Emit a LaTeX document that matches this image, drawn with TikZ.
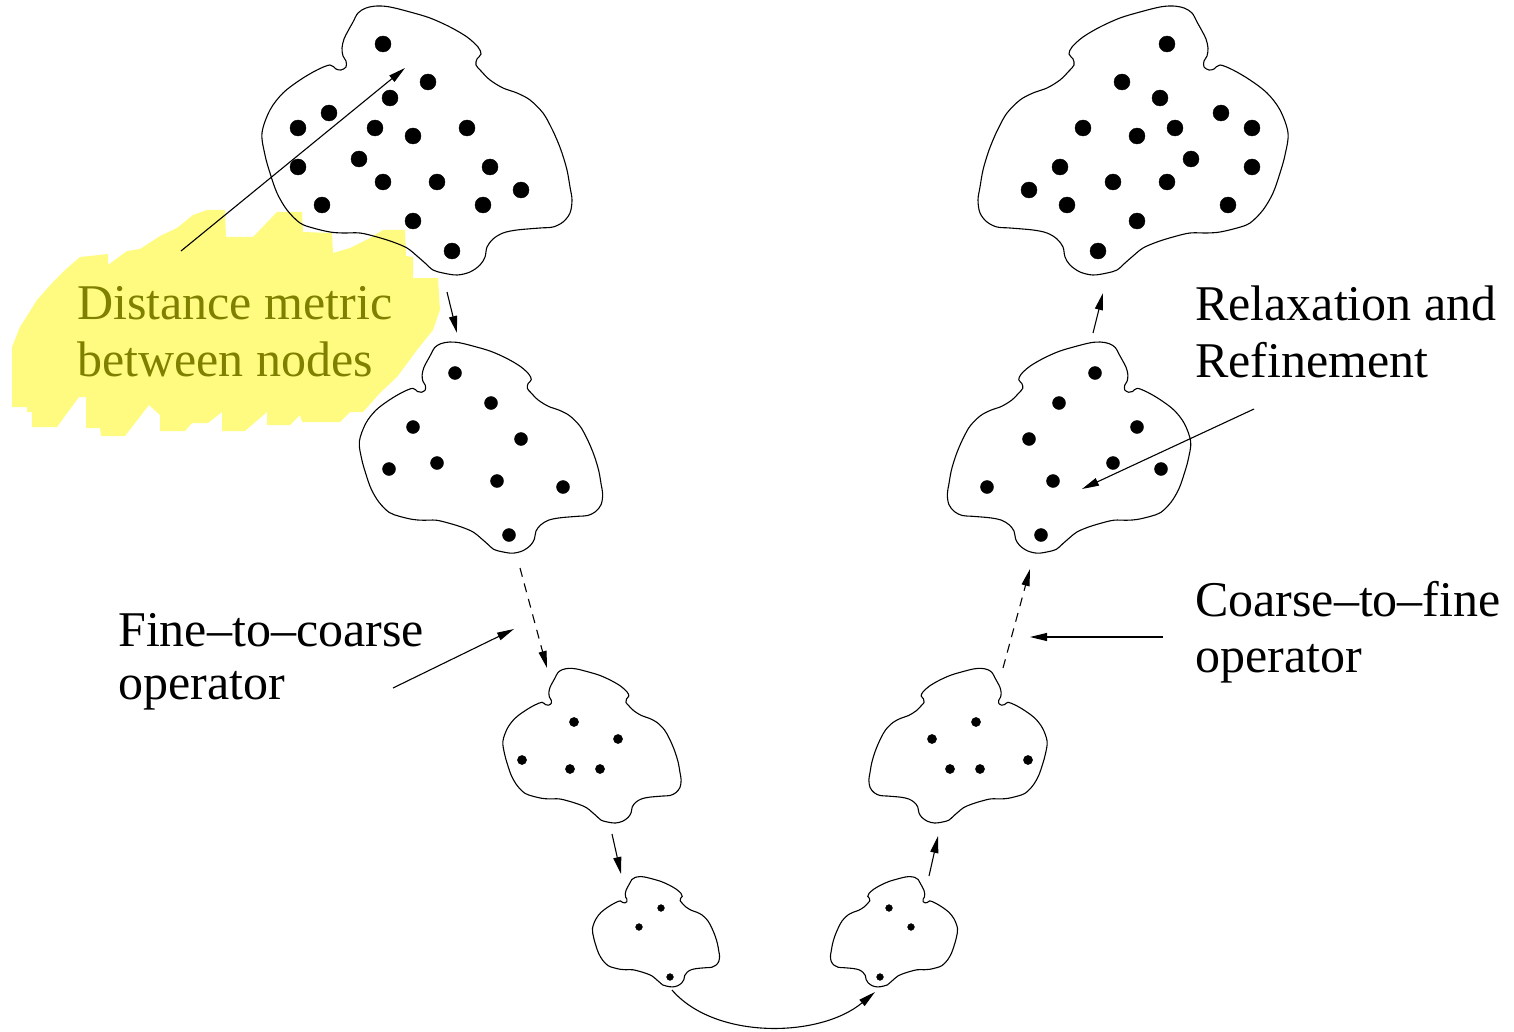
\documentclass[tikz,border=0pt]{standalone}
\usepackage{fontspec}
\setmainfont{Liberation Serif}
\usetikzlibrary{arrows.meta}

\definecolor{hilite}{RGB}{255,251,128}
\definecolor{olivetext}{RGB}{128,128,0}

\tikzset{
  blobline/.style={line width=1.1pt},
  arr/.style={line width=1.1pt,-{Triangle[length=17pt,width=8pt]}},
  darr/.style={arr,dash pattern=on 9pt off 7pt},
  lbl/.style={font=\fontsize{50}{57}\selectfont,inner sep=0pt,anchor=base west},
  blobshape/.pic={
    \draw[blobline] plot[smooth cycle,tension=0.55] coordinates {
      (-155,-8) (-147,-31) (-134,-48) (-117,-61) (-100,-71) (-87,-76)
      (-81,-72) (-76,-71) (-71,-74) (-71,-80) (-74,-85) (-75,-93)
      (-73,-102) (-69,-110) (-64,-119) (-59,-128) (-51,-133) (-40,-135)
      (-27,-134) (-7,-129) (13,-123) (33,-114) (50,-104) (61,-94)
      (64,-87) (60,-82) (59,-76) (64,-70) (73,-61) (86,-53) (100,-48)
      (113,-41) (126,-28) (134,-14) (140,-1) (145,12) (150,29) (153,46)
      (155,59) (153,72) (146,81) (136,86) (123,87) (100,89) (86,92)
      (76,98) (70,106) (68,116) (63,124) (53,131) (40,134) (26,132)
      (16,129) (8,122) (0,115) (-10,107) (-24,101) (-40,96) (-57,92)
      (-74,92) (-87,91) (-104,87) (-117,82) (-130,69) (-140,52)
      (-147,32) (-152,14)
    };
  }
}

\begin{document}
\begin{tikzpicture}[x=1pt,y=-1pt]
\useasboundingbox (0,0) rectangle (1514,1032);

% highlighter marks
\fill[hilite] (12,407) -- (12,347) -- (20,327) -- (37,300) -- (53,282) -- (65,270)
  -- (80,257) -- (108,254) -- (108,265) -- (127,251) -- (140,249) -- (160,236)
  -- (177,228) -- (193,215) -- (207,210) -- (225,210) -- (226,237) -- (253,237)
  -- (277,212) -- (302,212) -- (303,232) -- (332,233) -- (333,253) -- (350,248)
  -- (370,238) -- (383,230) -- (405,230) -- (406,256) -- (413,257) -- (413,278)
  -- (438,278) -- (440,310) -- (433,330) -- (417,350) -- (397,377) -- (380,393)
  -- (363,412) -- (350,412) -- (340,422) -- (302,422) -- (300,415) -- (290,425)
  -- (267,425) -- (267,412) -- (245,431) -- (222,431) -- (222,412) -- (208,423)
  -- (192,423) -- (185,431) -- (160,431) -- (160,415) -- (149,405) -- (125,436)
  -- (101,436) -- (100,428) -- (86,428) -- (86,397) -- (79,397) -- (57,427)
  -- (32,427) -- (32,412) -- (27,412) -- (27,407) -- cycle;

% fine to coarse
\pic at (417,141) {blobshape};
\pic[scale=0.785] at (481,448) {blobshape};
\pic[scale=0.575] at (592,746) {blobshape};
\pic[scale=0.41] at (656,932) {blobshape};

% coarse to fine
\pic[xscale=-1] at (1133,141) {blobshape};
\pic[xscale=-0.785,yscale=0.785] at (1069,448) {blobshape};
\pic[xscale=-0.575,yscale=0.575] at (958,746) {blobshape};
\pic[xscale=-0.41,yscale=0.41] at (894,932) {blobshape};

% points
\filldraw (383,44) circle (8pt) (428,82) circle (8pt) (390,98) circle (8pt)
  (329,113) circle (8pt) (298,128) circle (8pt) (375,128) circle (8pt)
  (413,136) circle (8pt) (467,128) circle (8pt) (298,167) circle (8pt)
  (359,159) circle (8pt) (383,182) circle (8pt) (437,182) circle (8pt)
  (490,167) circle (8pt) (521,190) circle (8pt) (322,205) circle (8pt)
  (483,205) circle (8pt) (413,221) circle (8pt) (452,251) circle (8pt);
\filldraw (1167,44) circle (8pt) (1122,82) circle (8pt) (1160,98) circle (8pt)
  (1221,113) circle (8pt) (1252,128) circle (8pt) (1175,128) circle (8pt)
  (1137,136) circle (8pt) (1083,128) circle (8pt) (1252,167) circle (8pt)
  (1191,159) circle (8pt) (1167,182) circle (8pt) (1113,182) circle (8pt)
  (1060,167) circle (8pt) (1029,190) circle (8pt) (1228,205) circle (8pt)
  (1067,205) circle (8pt) (1137,221) circle (8pt) (1098,251) circle (8pt);

\filldraw (455,373) circle (6.5pt) (491,403) circle (6.5pt) (413,427) circle (6.5pt)
  (521,439) circle (6.5pt) (389,469) circle (6.5pt) (437,463) circle (6.5pt)
  (497,481) circle (6.5pt) (563,487) circle (6.5pt) (509,535) circle (6.5pt);
\filldraw (1095,373) circle (6.5pt) (1059,403) circle (6.5pt) (1137,427) circle (6.5pt)
  (1029,439) circle (6.5pt) (1161,469) circle (6.5pt) (1113,463) circle (6.5pt)
  (1053,481) circle (6.5pt) (987,487) circle (6.5pt) (1041,535) circle (6.5pt);

\filldraw (574,722) circle (4.6pt) (618,739) circle (4.6pt) (522,760) circle (4.6pt)
  (570,769) circle (4.6pt) (600,769) circle (4.6pt);
\filldraw (976,722) circle (4.6pt) (932,739) circle (4.6pt) (1028,760) circle (4.6pt)
  (980,769) circle (4.6pt) (950,769) circle (4.6pt);

\filldraw (661,908) circle (3.4pt) (639,927) circle (3.4pt) (670,977) circle (3.4pt);
\filldraw (889,908) circle (3.4pt) (911,927) circle (3.4pt) (880,977) circle (3.4pt);

% labels
\node[lbl,text=olivetext] (dist1) at (77,319) {Distance metric};
\node[lbl,text=olivetext] (dist2) at (77,376) {between nodes};
\node[lbl] (relax1) at (1195,320) {Relaxation and};
\node[lbl] (relax2) at (1195,377) {Refinement};
\node[lbl] (c2f1) at (1195,616) {Coarse--to--fine};
\node[lbl] (c2f2) at (1195,672) {operator};
\node[lbl] (f2c1) at (118,646) {Fine--to--coarse};
\node[lbl] (f2c2) at (118,699) {operator};

% arrow ends
\coordinate (dmTail) at (181,251);
\coordinate (dmHead) at (405,68);
\coordinate (l12a) at (447,292);
\coordinate (l12b) at (457,333);
\coordinate (l23a) at (520,568);
\coordinate (l23b) at (547,668);
\coordinate (l34a) at (612,834);
\coordinate (l34b) at (621,874);
\coordinate (botA) at (672,990);
\coordinate (botB) at (875,992);
\coordinate (r43a) at (929,876);
\coordinate (r43b) at (938,836);
\coordinate (r32a) at (1003,668);
\coordinate (r32b) at (1030,569);
\coordinate (r21a) at (1093,333);
\coordinate (r21b) at (1103,293);
\coordinate (f2cTail) at (393,688);
\coordinate (f2cHead) at (514,629);
\coordinate (c2fTail) at (1163,637);
\coordinate (c2fHead) at (1030,637);
\coordinate (relTail) at (1254,409);
\coordinate (relHead) at (1082,489);

% arrows
\draw[arr] (dmTail) -- (dmHead);
\draw[arr] (l12a) -- (l12b);
\draw[darr] (l23a) -- (l23b);
\draw[arr] (l34a) -- (l34b);
\draw[arr] (botA) .. controls (715,1040) and (820,1038) .. (botB);
\draw[arr] (r43a) -- (r43b);
\draw[darr] (r32a) -- (r32b);
\draw[arr] (r21a) -- (r21b);
\draw[arr] (f2cTail) -- (f2cHead);
\draw[arr] (c2fTail) -- (c2fHead);
\draw[arr] (relTail) -- (relHead);
\end{tikzpicture}
\end{document}
